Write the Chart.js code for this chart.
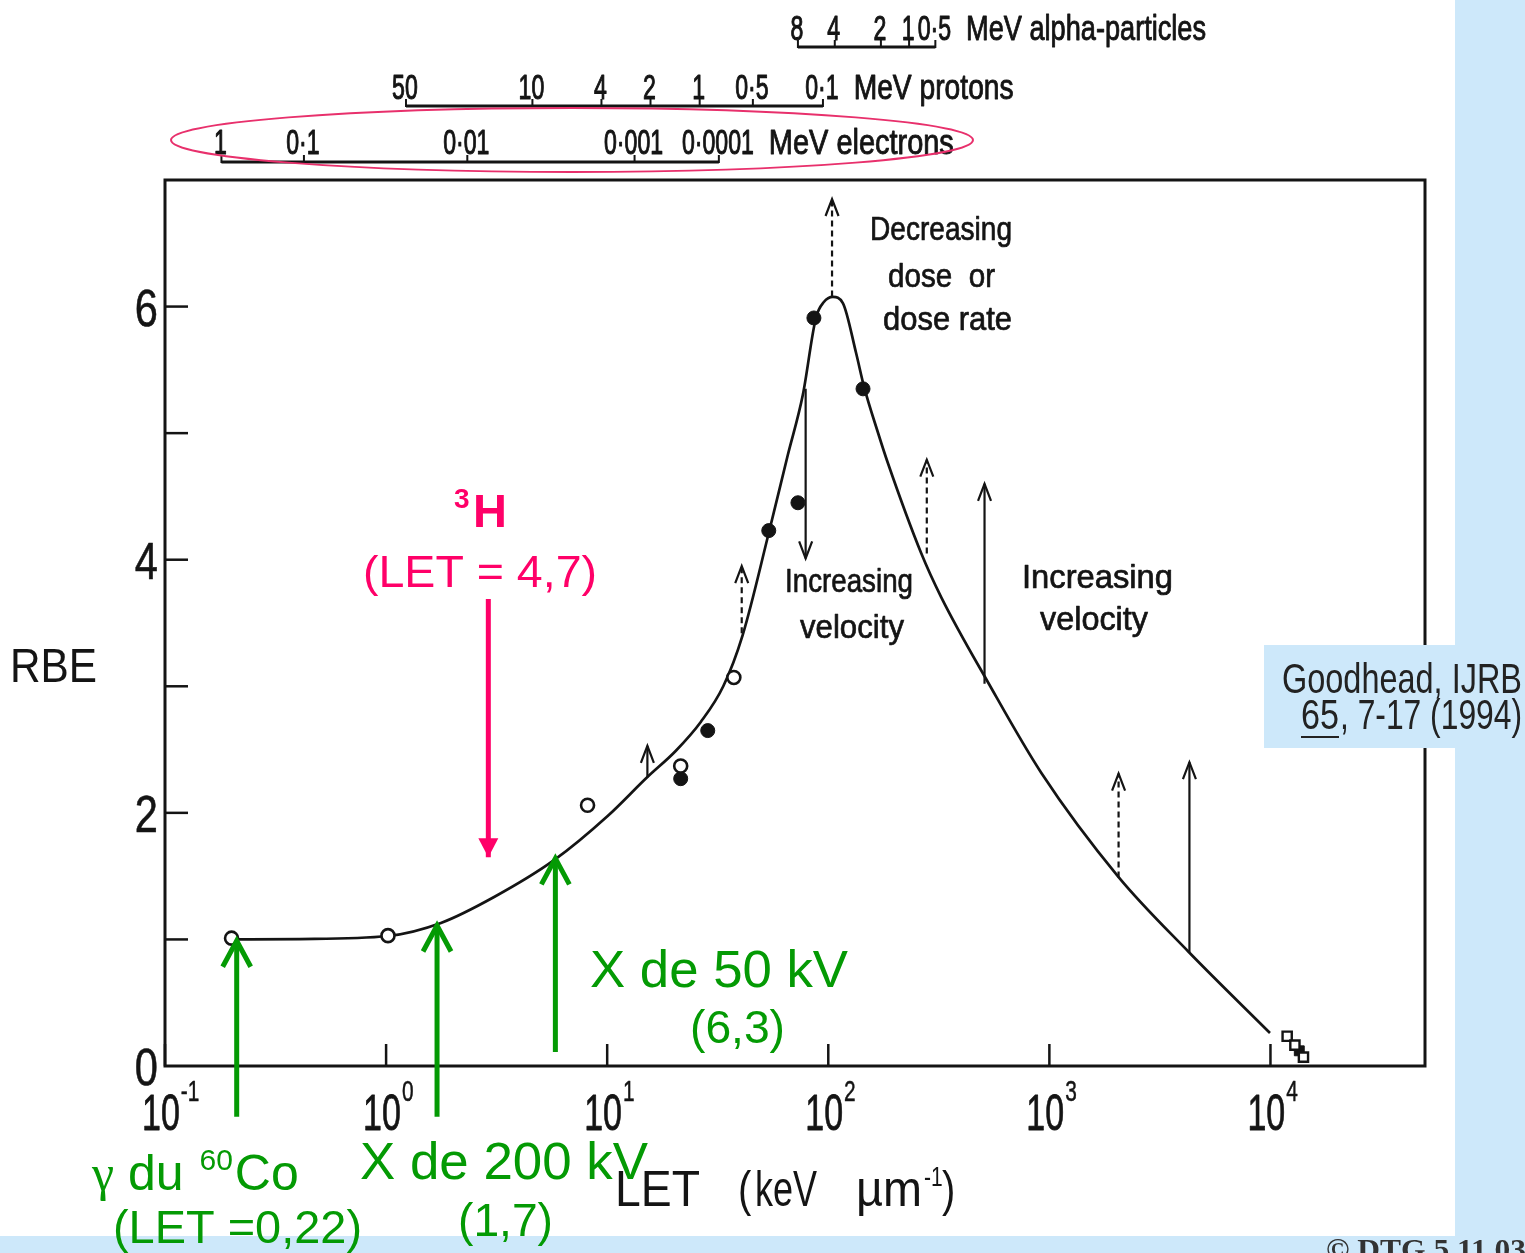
<!DOCTYPE html>
<html>
<head>
<meta charset="utf-8">
<script src="https://cdn.jsdelivr.net/npm/chart.js@4.4.1/dist/chart.umd.min.js"></script>
<style>
html,body{margin:0;padding:0;background:#fff;overflow:hidden;}
#wrap{position:relative;width:1525px;height:1253px;}
canvas{display:block;}
</style>
</head>
<body>
<div id="wrap"><canvas id="c" width="1525" height="1253"></canvas></div>
<script>
// ---------------- DATA ----------------
// RBE vs LET curve (LET in keV/µm, log axis)
const curveLET = [0.20, 0.407, 1.02, 1.77, 3.08, 5.77, 10.05, 15.2, 20.4, 26.5, 33.5, 41.0, 53.8, 65.6, 76.7, 87.9, 95.5, 105, 116.4, 133.6, 145.2, 168, 186, 263, 324, 530, 920, 2056, 4270, 9950];
const curveRBE = [1.00, 1.003, 1.027, 1.13, 1.335, 1.628, 1.975, 2.283, 2.489, 2.718, 3.00, 3.405, 4.211, 4.827, 5.301, 5.910, 6.036, 6.076, 6.028, 5.633, 5.365, 5.001, 4.764, 4.053, 3.705, 3.026, 2.315, 1.493, 0.901, 0.261];

// measured points
const openLET = [0.20, 1.02, 8.15, 21.5, 37.4];
const openRBE = [1.01, 1.03, 2.06, 2.37, 3.07];
const filledLET = [21.5, 28.5, 53.8, 72.9, 86.1, 143.6];
const filledRBE = [2.27, 2.65, 4.23, 4.45, 5.91, 5.35];
const squareLET = [11900, 12900, 14100];
const squareRBE = [0.235, 0.165, 0.07];
const squareFilledLET = [13500];
const squareFilledRBE = [0.12];

// black arrows (dose-rate / velocity effects)
const arrowLET    = [15.2, 40.6, 79.0, 104, 279, 509, 2056, 4300];
const arrowFrom   = [2.28, 3.42, 5.35, 6.08, 4.05, 3.02, 1.49, 0.90];
const arrowTo     = [2.53, 3.95, 4.01, 6.85, 4.79, 4.60, 2.31, 2.40];
const arrowDashed = [false, true, false, true, true, false, true, false];

// coloured annotation arrows
const greenLET  = [0.211, 1.70, 5.83];
const greenFrom = [-0.40, -0.40, 0.11];
const greenTo   = [0.99, 1.11, 1.64];
const pinkLET  = [2.90];
const pinkFrom = [3.69];
const pinkTo   = [1.65];

// axes
const xMin = 0.1, xMax = 50000, yMin = 0, yMax = 7;
const xTickExps = [-1, 0, 1, 2, 3, 4];
const yTickValues = [0, 1, 2, 3, 4, 5, 6];
const yTickLabels = ['0', '', '2', '', '4', '', '6'];

// secondary energy scales (label, LET position)
const alphaLabels = ['8', '4', '2', '1', '0·5'];
const alphaLET = [72.9, 107, 173, 232, 305];
const protonLabels = ['50', '10', '4', '2', '1', '0·5', '0·1'];
const protonLET = [1.23, 4.59, 9.42, 15.7, 26.2, 45.6, 94.6];
const electronLabels = ['1', '0·1', '0·01', '0·001', '0·0001'];
const electronLET = [0.180, 0.425, 2.33, 13.3, 32.0];

// ---------------- STYLE ----------------
const SANS = "'Liberation Sans', Arial, Helvetica, sans-serif";
const SERIF = "'Liberation Serif', 'Times New Roman', serif";
const INK = '#141414';
const GREEN = '#049a04';
const PINK = '#ff0068';
const BLUE = '#cde8fa';

const pt = (xs, ys) => xs.map((x, i) => ({x, y: ys[i]}));

function txt(ctx, s, x, baseline, o) {
  ctx.save();
  ctx.font = (o.weight || 'normal') + ' ' + o.size + 'px ' + (o.family || SANS);
  ctx.fillStyle = o.color || INK;
  ctx.textBaseline = 'alphabetic';
  ctx.textAlign = 'left';
  const w = ctx.measureText(s).width;
  const sx = o.width ? o.width / w : (o.sx || 1);
  const dw = w * sx;
  const left = o.align === 'center' ? x - dw / 2 : (o.align === 'right' ? x - dw : x);
  ctx.translate(left, baseline);
  ctx.scale(sx, 1);
  ctx.fillText(s, 0, 0);
  if (o.stroke) {
    ctx.strokeStyle = o.color || INK;
    ctx.lineWidth = o.stroke;
    ctx.lineJoin = 'round';
    ctx.strokeText(s, 0, 0);
  }
  ctx.restore();
  return left + dw;
}
function seg(ctx, x1, y1, x2, y2) { ctx.beginPath(); ctx.moveTo(x1, y1); ctx.lineTo(x2, y2); ctx.stroke(); }

// ---------------- DATASETS ----------------
const datasets = [];
datasets.push({label: 'RBE', data: pt(curveLET, curveRBE), borderColor: INK, borderWidth: 2.7,
  pointRadius: 0, cubicInterpolationMode: 'monotone', fill: false, order: 6});
datasets.push({label: 'filled', data: pt(filledLET, filledRBE), showLine: false, pointStyle: 'circle',
  pointRadius: 7, pointBorderWidth: 1, pointBorderColor: INK, pointBackgroundColor: INK, order: 2});
datasets.push({label: 'open', data: pt(openLET, openRBE), showLine: false, pointStyle: 'circle',
  pointRadius: 6.5, pointBorderWidth: 2.6, pointBorderColor: INK, pointBackgroundColor: '#fff', order: 1});
datasets.push({label: 'squaresFilled', data: pt(squareFilledLET, squareFilledRBE), showLine: false, pointStyle: 'rect',
  pointRadius: 7, pointBorderWidth: 1, pointBorderColor: INK, pointBackgroundColor: INK, order: 2, clip: false});
datasets.push({label: 'squares', data: pt(squareLET, squareRBE), showLine: false, pointStyle: 'rect',
  pointRadius: 6.5, pointBorderWidth: 2.4, pointBorderColor: INK, pointBackgroundColor: '#fff', order: 1, clip: false});
arrowLET.forEach((x, i) => datasets.push({label: 'arrow', head: 'black',
  data: [{x, y: arrowFrom[i]}, {x, y: arrowTo[i]}], borderColor: INK, borderWidth: 2.2,
  borderDash: arrowDashed[i] ? [6, 4] : [], pointRadius: 0, order: 4, clip: false}));
greenLET.forEach((x, i) => datasets.push({label: 'green', head: 'green',
  data: [{x, y: greenFrom[i]}, {x, y: greenTo[i]}], borderColor: GREEN, borderWidth: 5,
  pointRadius: 0, order: 0, clip: false}));
pinkLET.forEach((x, i) => datasets.push({label: 'pink', head: 'pink',
  data: [{x, y: pinkFrom[i]}, {x, y: pinkTo[i]}], borderColor: PINK, borderWidth: 5,
  pointRadius: 0, order: 0, clip: false}));

// ---------------- PLUGIN ----------------
const decor = {
  id: 'decor',
  beforeDraw(chart) {
    const ctx = chart.ctx;
    ctx.save();
    ctx.fillStyle = '#fff'; ctx.fillRect(0, 0, 1525, 1253);
    ctx.fillStyle = BLUE;
    ctx.fillRect(1455, 0, 70, 1253);
    ctx.fillRect(0, 1236, 1525, 17);
    ctx.restore();
  },
  beforeDatasetsDraw(chart) {
    const ctx = chart.ctx, ca = chart.chartArea, xs = chart.scales.x, ys = chart.scales.y;
    ctx.save();
    ctx.strokeStyle = INK; ctx.lineWidth = 3; ctx.lineCap = 'butt';
    ctx.strokeRect(ca.left, ca.top, ca.right - ca.left, ca.bottom - ca.top);
    ctx.lineWidth = 2.5;
    // y ticks (inward) + labels
    yTickValues.forEach((v, i) => {
      const py = ys.getPixelForValue(v);
      if (v > 0) seg(ctx, ca.left, py, ca.left + 23, py);
      if (yTickLabels[i]) txt(ctx, yTickLabels[i], 158, py + 19, {size: 52, sx: 0.8, align: 'right', stroke: 0.6});
    });
    // x ticks (inward) + labels
    xTickExps.forEach(e => {
      const px = xs.getPixelForValue(Math.pow(10, e));
      seg(ctx, px, ca.bottom, px, ca.bottom - 22);
      const r = txt(ctx, '10', px - 23, 1130, {size: 50, sx: 0.68, stroke: 0.8});
      txt(ctx, String(e), r + 1, 1101, {size: 29, sx: 0.72, stroke: 0.5});
    });
    // axis titles
    txt(ctx, 'RBE', 10, 682, {size: 48, width: 87});
    txt(ctx, 'LET', 615, 1206, {size: 50, width: 85});
    txt(ctx, '(', 738, 1206, {size: 50, sx: 0.8});
    txt(ctx, 'keV', 755, 1206, {size: 50, width: 62});
    txt(ctx, 'µm', 856, 1206, {size: 50, width: 66});
    txt(ctx, '-1', 924, 1186, {size: 28, sx: 0.75});
    txt(ctx, ')', 942, 1206, {size: 50, sx: 0.8});
    // annotation texts
    const A = {size: 33, stroke: 0.7};
    txt(ctx, 'Decreasing', 870, 240, Object.assign({width: 142}, A));
    txt(ctx, 'dose  or', 888, 287, Object.assign({width: 107}, A));
    txt(ctx, 'dose rate', 883, 330, Object.assign({width: 129}, A));
    txt(ctx, 'Increasing', 785, 592, Object.assign({width: 128}, A));
    txt(ctx, 'velocity', 800, 638, Object.assign({width: 104}, A));
    txt(ctx, 'Increasing', 1022, 588, Object.assign({width: 151}, A));
    txt(ctx, 'velocity', 1040, 630, Object.assign({width: 108}, A));
    // top secondary scales
    const scaleRow = (labels, lets, labelBase, lineY, suffix, suffixW) => {
      const pxs = lets.map(v => xs.getPixelForValue(v));
      ctx.lineWidth = 3;
      seg(ctx, pxs[0], lineY, pxs[pxs.length - 1], lineY);
      ctx.lineWidth = 2;
      pxs.forEach(p => seg(ctx, p, lineY + 1, p, lineY - 7));
      let last = 0;
      labels.forEach((l, i) => { last = txt(ctx, l, pxs[i] - 1, labelBase, {size: 35, sx: 0.66, align: 'center', stroke: 1.1}); });
      txt(ctx, suffix, last + 15, labelBase, {size: 35, width: suffixW, stroke: 0.9});
    };
    scaleRow(alphaLabels, alphaLET, 40, 47, 'MeV alpha-particles', 240);
    scaleRow(protonLabels, protonLET, 99, 106, 'MeV protons', 160);
    scaleRow(electronLabels, electronLET, 154, 162, 'MeV electrons', 185);
    // pink ellipse around the electron scale
    ctx.strokeStyle = '#e8306c'; ctx.lineWidth = 2;
    ctx.beginPath(); ctx.ellipse(572, 140, 401, 32, 0, 0, Math.PI * 2); ctx.stroke();
    // reference box
    ctx.fillStyle = BLUE; ctx.fillRect(1264, 645, 261, 103);
    txt(ctx, 'Goodhead, IJRB', 1522, 693, {size: 42, width: 240, align: 'right', color: '#222'});
    const l2 = txt(ctx, '65', 1301, 729, {size: 42, width: 38, color: '#222'});
    txt(ctx, ', 7-17 (1994)', 1522, 729, {size: 42, width: 182, align: 'right', color: '#222'});
    ctx.strokeStyle = '#222'; ctx.lineWidth = 2; seg(ctx, 1301, 737, l2, 737);
    // copyright
    txt(ctx, '© DTG 5.11.03', 1326, 1259, {size: 30, weight: 'bold', family: SERIF, width: 200, color: '#333'});
    ctx.restore();
  },
  afterDatasetsDraw(chart) {
    const ctx = chart.ctx;
    ctx.save();
    chart.data.datasets.forEach((ds, i) => {
      if (!ds.head) return;
      const m = chart.getDatasetMeta(i);
      const a = m.data[0], b = m.data[1];
      const dir = b.y < a.y ? 1 : -1; // 1 = arrow points up
      ctx.setLineDash([]);
      if (ds.head === 'black') {
        ctx.strokeStyle = INK; ctx.lineWidth = 2.2; ctx.lineJoin = 'miter';
        ctx.beginPath(); ctx.moveTo(b.x - 6.5, b.y + dir * 17); ctx.lineTo(b.x, b.y); ctx.lineTo(b.x + 6.5, b.y + dir * 17); ctx.stroke();
      } else if (ds.head === 'green') {
        ctx.strokeStyle = GREEN; ctx.lineWidth = 5; ctx.lineJoin = 'miter';
        ctx.beginPath(); ctx.moveTo(b.x - 14, b.y + dir * 26); ctx.lineTo(b.x, b.y); ctx.lineTo(b.x + 14, b.y + dir * 26); ctx.stroke();
      } else if (ds.head === 'pink') {
        ctx.fillStyle = PINK;
        ctx.beginPath(); ctx.moveTo(b.x - 10, b.y + dir * 19); ctx.lineTo(b.x, b.y); ctx.lineTo(b.x + 10, b.y + dir * 19); ctx.closePath(); ctx.fill();
      }
    });
    // coloured annotation labels
    txt(ctx, 'H', 473, 527, {size: 47, weight: 'bold', color: PINK});
    txt(ctx, '3', 454, 508, {size: 28, weight: 'bold', color: PINK});
    txt(ctx, '(LET = 4,7)', 363, 587, {size: 44, width: 234, color: PINK});
    txt(ctx, 'X de 50 kV', 590, 987, {size: 52, width: 258, color: GREEN});
    txt(ctx, '(6,3)', 690, 1043, {size: 46, width: 95, color: GREEN});
    let r = txt(ctx, 'γ', 92, 1190, {size: 50, family: SERIF, color: GREEN});
    r = txt(ctx, ' du ', r, 1190, {size: 50, color: GREEN});
    r = txt(ctx, '60', r + 2, 1170, {size: 30, color: GREEN});
    txt(ctx, 'Co', r + 2, 1190, {size: 50, color: GREEN});
    txt(ctx, '(LET =0,22)', 113, 1243, {size: 46, width: 249, color: GREEN});
    txt(ctx, 'X de 200 kV', 360, 1179, {size: 52, width: 288, color: GREEN});
    txt(ctx, '(1,7)', 458, 1236, {size: 46, width: 95, color: GREEN});
    ctx.restore();
  }
};

Chart.defaults.font.family = SANS;
new Chart(document.getElementById('c'), {
  type: 'line',
  data: {datasets},
  options: {
    responsive: false,
    devicePixelRatio: 1,
    animation: false,
    events: [],
    layout: {padding: {left: 165, top: 180, right: 100, bottom: 187}},
    plugins: {legend: {display: false}, tooltip: {enabled: false}},
    scales: {
      x: {type: 'logarithmic', min: xMin, max: xMax, display: false},
      y: {type: 'linear', min: yMin, max: yMax, display: false}
    }
  },
  plugins: [decor]
});
</script>
</body>
</html>
